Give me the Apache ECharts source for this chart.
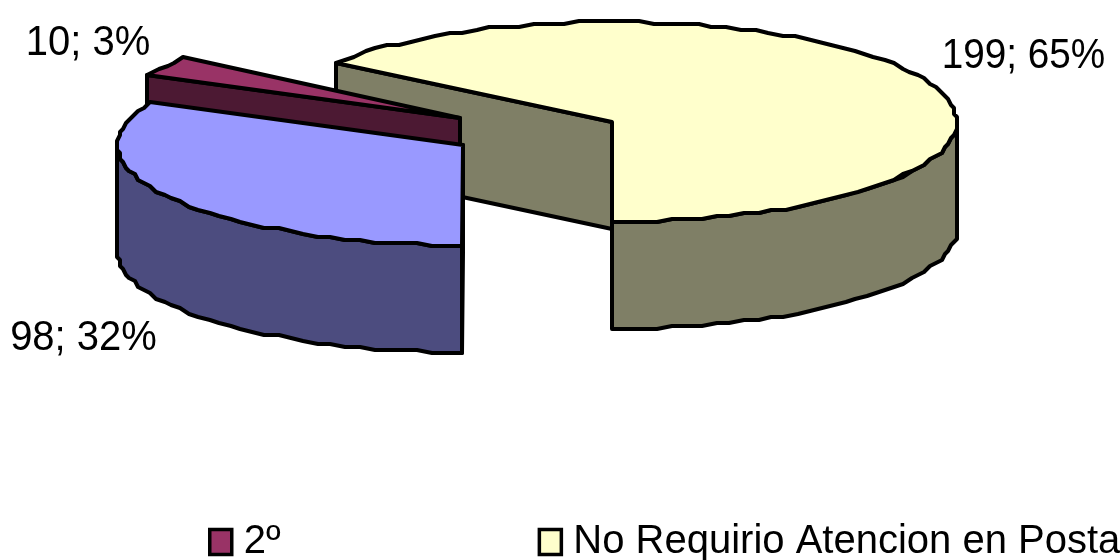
<!DOCTYPE html>
<html lang="es">

<head>
    <meta charset="UTF-8">
    <title>Atencion en Posta</title>
    <script src="https://cdn.jsdelivr.net/npm/echarts@6/dist/echarts.min.js"></script>
    <style>
        html,
        body {
            margin: 0;
            padding: 0;
            background: #fff;
        }

        #container {
            width: 1120px;
            height: 560px;
        }
    </style>
</head>

<body>
    <div id="container"></div>
    <script>
        // slice order follows the pie, clockwise from the bottom of the disc
        const names = ['1º', '2º', 'No Requirio Atencion en Posta'];
        const values = [98, 10, 199];
        const legendNames = ['2º', 'No Requirio Atencion en Posta'];

        const topColors = ['#9999ff', '#993366', '#ffffcc'];
        const wallColors = ['#4c4c7f', '#4c1933', '#7f7f66'];

        // exploded centre of each slice, and where its label goes
        const centres = [[463, 145], [460, 118], [612, 122]];
        const labelPos = [[83.5, 338], [88, 43], [1023.5, 56]];
        const labelScale = [0.93, 0.93, 0.9];

        const RX = 345;
        const RY = 100;
        const DEPTH = 107;
        const START = 180;
        const STEP = 2.5; // degrees between outline points
        const GRID = 3; // the outline is snapped to a coarse grid, as in the original

        const total = values.reduce((a, b) => a + b, 0);
        const font = '43px "Liberation Sans", Arial, sans-serif';

        function snap(v) {
            return Math.round(v / GRID) * GRID;
        }

        function rimPoint(c, deg, drop) {
            let rad = deg * Math.PI / 180;
            return [snap(c[0] + RX * Math.sin(rad)), snap(c[1] - RY * Math.cos(rad)) + drop];
        }

        function arc(c, from, to, drop) {
            let pts = [];
            let n = Math.max(1, Math.round((to - from) / STEP));
            for (let i = 0; i <= n; i++) {
                pts.push(rimPoint(c, from + (to - from) * i / n, drop));
            }
            return pts;
        }

        function poly(points, fill) {
            return {
                type: 'polygon',
                shape: { points: points },
                style: { fill: fill, stroke: '#000', lineWidth: 4, lineJoin: 'round' },
            };
        }

        function renderSlice(index) {
            let before = values.slice(0, index).reduce((a, b) => a + b, 0);
            let from = START + before / total * 360;
            let to = from + values[index] / total * 360;
            let c = centres[index];
            let children = [];

            // only the radial face at the start of a slice looks towards the viewer
            let p = rimPoint(c, from, 0);
            children.push(poly([c, p, [p[0], p[1] + DEPTH], [c[0], c[1] + DEPTH]], wallColors[index]));

            // outer wall, only the part that faces the viewer
            let ranges = [[Math.max(from, 90), Math.min(to, 270)], [Math.max(from, 450), Math.min(to, 630)]];
            ranges.forEach(r => {
                if (r[1] > r[0]) {
                    let upper = arc(c, r[0], r[1], 0);
                    let lower = arc(c, r[0], r[1], DEPTH).reverse();
                    children.push(poly(upper.concat(lower), wallColors[index]));
                }
            });

            children.push(poly([c].concat(arc(c, from, to, 0)), topColors[index]));
            return { type: 'group', children: children };
        }

        function renderLabel(index) {
            let pct = Math.round(values[index] / total * 100);
            return {
                type: 'text',
                x: labelPos[index][0],
                y: labelPos[index][1],
                scaleX: labelScale[index],
                style: {
                    text: values[index] + '; ' + pct + '%',
                    font: font,
                    fill: '#000',
                    textAlign: 'center',
                    textVerticalAlign: 'middle',
                },
            };
        }

        // back to front: the disc, then the two pulled out slices, labels last
        const drawOrder = [2, 1, 0];
        let series = drawOrder.map(i => ({
            type: 'custom',
            name: names[i],
            coordinateSystem: 'none',
            silent: true,
            itemStyle: { color: topColors[i] },
            data: [values[i]],
            renderItem: () => renderSlice(i),
        }));
        series.push({
            type: 'custom',
            name: 'etiquetas',
            coordinateSystem: 'none',
            silent: true,
            z: 5,
            data: values,
            renderItem: params => renderLabel(params.dataIndex),
        });

        let chart = echarts.init(document.getElementById('container'), null, { renderer: 'canvas' });
        chart.setOption({
            animation: false,
            backgroundColor: '#fff',
            legend: {
                left: 203,
                top: 517,
                width: 2000,
                itemGap: 257,
                itemWidth: 22,
                itemHeight: 25,
                selectedMode: false,
                icon: 'rect',
                textStyle: {
                    fontFamily: '"Liberation Sans", Arial, sans-serif',
                    fontSize: 40,
                    color: '#000',
                    padding: [0, 0, 0, 7],
                },
                data: legendNames.map(name => ({
                    name: name,
                    itemStyle: {
                        color: topColors[names.indexOf(name)],
                        borderColor: '#000',
                        borderWidth: 3.5,
                    },
                })),
            },
            series: series,
        });
    </script>
</body>

</html>
